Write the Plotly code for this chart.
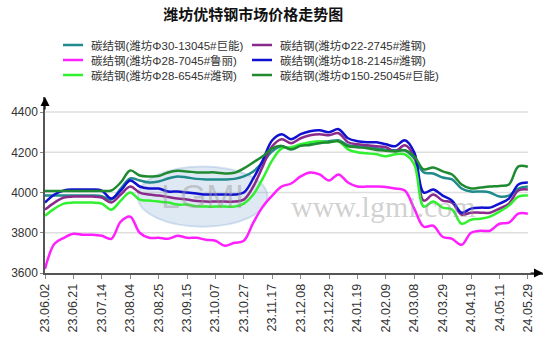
import plotly.graph_objects as go

# ---------------- data ----------------
tick_labels = ["23.06.02", "23.06.21", "23.07.14", "23.08.04", "23.08.25", "23.09.15",
               "23.10.07", "23.10.27", "23.11.17", "23.12.08", "23.12.29", "24.01.19",
               "24.02.09", "24.03.08", "24.03.29", "24.04.19", "24.05.11", "24.05.29"]

names = ["碳结钢(潍坊Φ30-13045#巨能)", "碳结钢(潍坊Φ22-2745#潍钢)",
         "碳结钢(潍坊Φ28-7045#鲁丽)", "碳结钢(潍坊Φ18-2145#潍钢)",
         "碳结钢(潍坊Φ28-6545#潍钢)", "碳结钢(潍坊Φ150-25045#巨能)"]

teal = [3985, 3985, 3985, 3985, 3985, 3985, 3982, 3965, 4020, 4070, 4060, 4050, 4055,
        4070, 4080, 4075, 4068, 4065, 4065, 4065, 4068, 4080, 4105, 4150, 4205, 4230,
        4215, 4235, 4240, 4250, 4255, 4260, 4235, 4230, 4225, 4220, 4212, 4210, 4210,
        4170, 4100, 4095, 4075, 4065, 4020, 4005, 4005, 4000, 3980, 3985, 4020, 4030]

purple = [3915, 3950, 3975, 3980, 3980, 3980, 3975, 3950, 3990, 4030, 4000, 3990, 3985,
          3978, 3970, 3965, 3958, 3955, 3955, 3955, 3955, 3965, 4030, 4130, 4230, 4265,
          4245, 4270, 4285, 4290, 4285, 4295, 4250, 4240, 4235, 4230, 4225, 4205, 4235,
          4180, 3960, 3990, 3960, 3950, 3890, 3900, 3900, 3900, 3920, 3945, 4010, 4015]

magenta = [3620, 3745, 3775, 3795, 3790, 3790, 3785, 3770, 3855, 3880, 3800, 3775, 3775,
           3770, 3785, 3775, 3775, 3765, 3760, 3735, 3750, 3760, 3850, 3930, 3985, 4030,
           4045, 4080, 4100, 4090, 4060, 4090, 4050, 4030, 4030, 4030, 4028, 4020, 4010,
           3920, 3830, 3835, 3780, 3770, 3740, 3800, 3810, 3810, 3845, 3850, 3895, 3895]

blue = [3950, 3990, 4010, 4015, 4015, 4015, 4010, 3970, 4010, 4060, 4030, 4020, 4020,
        4005, 4005, 4000, 3995, 3990, 3990, 3990, 3990, 4000, 4070, 4160, 4260, 4290,
        4265, 4290, 4305, 4310, 4300, 4315, 4270, 4255, 4250, 4250, 4240, 4230, 4260,
        4200, 4000, 4015, 3985, 3960, 3900, 3920, 3925, 3925, 3945, 3970, 4040, 4050]

green = [3885, 3920, 3945, 3950, 3950, 3950, 3945, 3915, 3960, 4000, 3965, 3960, 3955,
         3950, 3940, 3940, 3932, 3930, 3930, 3930, 3930, 3945, 3990, 4070, 4160, 4220,
         4225, 4240, 4250, 4255, 4250, 4255, 4215, 4200, 4195, 4190, 4180, 4190, 4190,
         4140, 3930, 3955, 3925, 3915, 3845, 3865, 3870, 3880, 3905, 3935, 3980, 3985]

darkgreen = [4008, 4008, 4008, 4008, 4008, 4008, 4008, 4010, 4050, 4110, 4085, 4080, 4082,
             4100, 4108, 4105, 4100, 4100, 4100, 4095, 4098, 4120, 4150, 4180, 4220, 4232,
             4215, 4232, 4236, 4245, 4250, 4255, 4230, 4225, 4220, 4212, 4208, 4205, 4210,
             4180, 4115, 4125, 4105, 4090, 4040, 4020, 4025, 4030, 4033, 4040, 4130, 4128]

y_ticks = [3600, 3800, 4000, 4200, 4400]

series = [teal, purple, magenta, blue, green, darkgreen]
colors = ["#208a8c", "#8a2a8a", "#ff20ff", "#1010d0", "#30f030", "#208a30"]

FONT = "Liberation Sans, Arial, Noto Sans CJK SC, sans-serif"

W, H = 554, 352
ML, MR, MT, MB = 45, 11, 97, 79
PW, PH = W - ML - MR, H - MT - MB


def px_x(px):
    return (px - ML) / PW


def px_y(py):
    return (H - MB - py) / PH


fig = go.Figure()
for name, vals, col in zip(names, series, colors):
    fig.add_trace(go.Scatter(
        x=list(range(len(vals))), y=vals, name=name, mode="lines",
        line=dict(color=col, width=2.5, shape="spline", smoothing=1.0),
        hoverinfo="skip", showlegend=False))

step = 3
tickvals = [i * step for i in range(len(tick_labels))]
last = tickvals[-1]

shapes = []
for v in y_ticks[1:]:
    shapes.append(dict(type="line", xref="x", yref="y", x0=0, x1=last, y0=v, y1=v,
                       line=dict(color="#dedede", width=1.5), layer="below"))
# watermark logo ellipse
shapes.append(dict(type="circle", xref="x", yref="y", x0=9.8, x1=23.5, y0=3830, y1=4130,
                   fillcolor="rgba(140,175,215,0.28)", line=dict(color="rgba(140,175,215,0.35)", width=2),
                   layer="below"))

annotations = [
    dict(text="LGMI", x=16.6, y=3985, xref="x", yref="y", showarrow=False,
         font=dict(family="Liberation Sans, Arial", size=34, color="rgba(150,150,150,0.45)")),
    dict(text="www.lgmi.com", x=35.8, y=3930, xref="x", yref="y", showarrow=False,
         font=dict(family="Liberation Serif, Times New Roman, serif", size=30, color="rgba(150,150,150,0.45)")),
    # axis arrows
    dict(text="", x=1, y=0, xref="paper", yref="paper", ax=-14, ay=0, showarrow=True,
         arrowhead=2, arrowsize=1.5, arrowwidth=1.2, arrowcolor="black", standoff=0),
    dict(text="", x=0, y=1, xref="paper", yref="paper", ax=0, ay=14, showarrow=True,
         arrowhead=2, arrowsize=1.5, arrowwidth=1.2, arrowcolor="black", standoff=0),
]

# legend (two columns, three rows)
col_x = [63, 252]
row_y = [45, 60, 75]
for k, (name, col) in enumerate(zip(names, colors)):
    cx = col_x[k % 2]
    ry = row_y[k // 2]
    shapes.append(dict(type="line", xref="paper", yref="paper",
                       x0=px_x(cx), x1=px_x(cx + 20), y0=px_y(ry), y1=px_y(ry),
                       line=dict(color=col, width=2.5)))
    annotations.append(dict(text=name, xref="paper", yref="paper", x=px_x(cx + 26), y=px_y(ry),
                            xanchor="left", yanchor="middle", showarrow=False,
                            font=dict(size=11.5, color="#333333", family=FONT)))

fig.update_layout(
    width=W, height=H,
    margin=dict(l=ML, r=MR, t=MT, b=MB),
    paper_bgcolor="white", plot_bgcolor="white",
    font=dict(family=FONT, color="#333333"),
    title=dict(text="<b>潍坊优特钢市场价格走势图</b>", x=0.457, xref="container", xanchor="center",
               y=1 - 15 / 352, yref="container", yanchor="middle",
               font=dict(size=15, color="#111111", family="Noto Sans CJK SC, sans-serif")),
    showlegend=False,
    xaxis=dict(range=[0, 52.6], tickmode="array", tickvals=tickvals, ticktext=tick_labels,
               tickangle=-90, showgrid=False, zeroline=False, showline=True,
               linecolor="#555555", linewidth=1.5, ticks="outside", ticklen=4, tickcolor="#888888",
               tickfont=dict(size=12.5, color="#333333"), automargin=False, fixedrange=True),
    yaxis=dict(range=[3600, 4475], tickmode="array", tickvals=y_ticks,
               showgrid=False, zeroline=False, showline=True, linecolor="#555555", linewidth=1.5,
               ticks="outside", ticklen=3, tickcolor="#888888",
               tickfont=dict(size=12, color="#333333"), automargin=False, fixedrange=True),
    shapes=shapes, annotations=annotations,
)

fig.write_html("out.html")
